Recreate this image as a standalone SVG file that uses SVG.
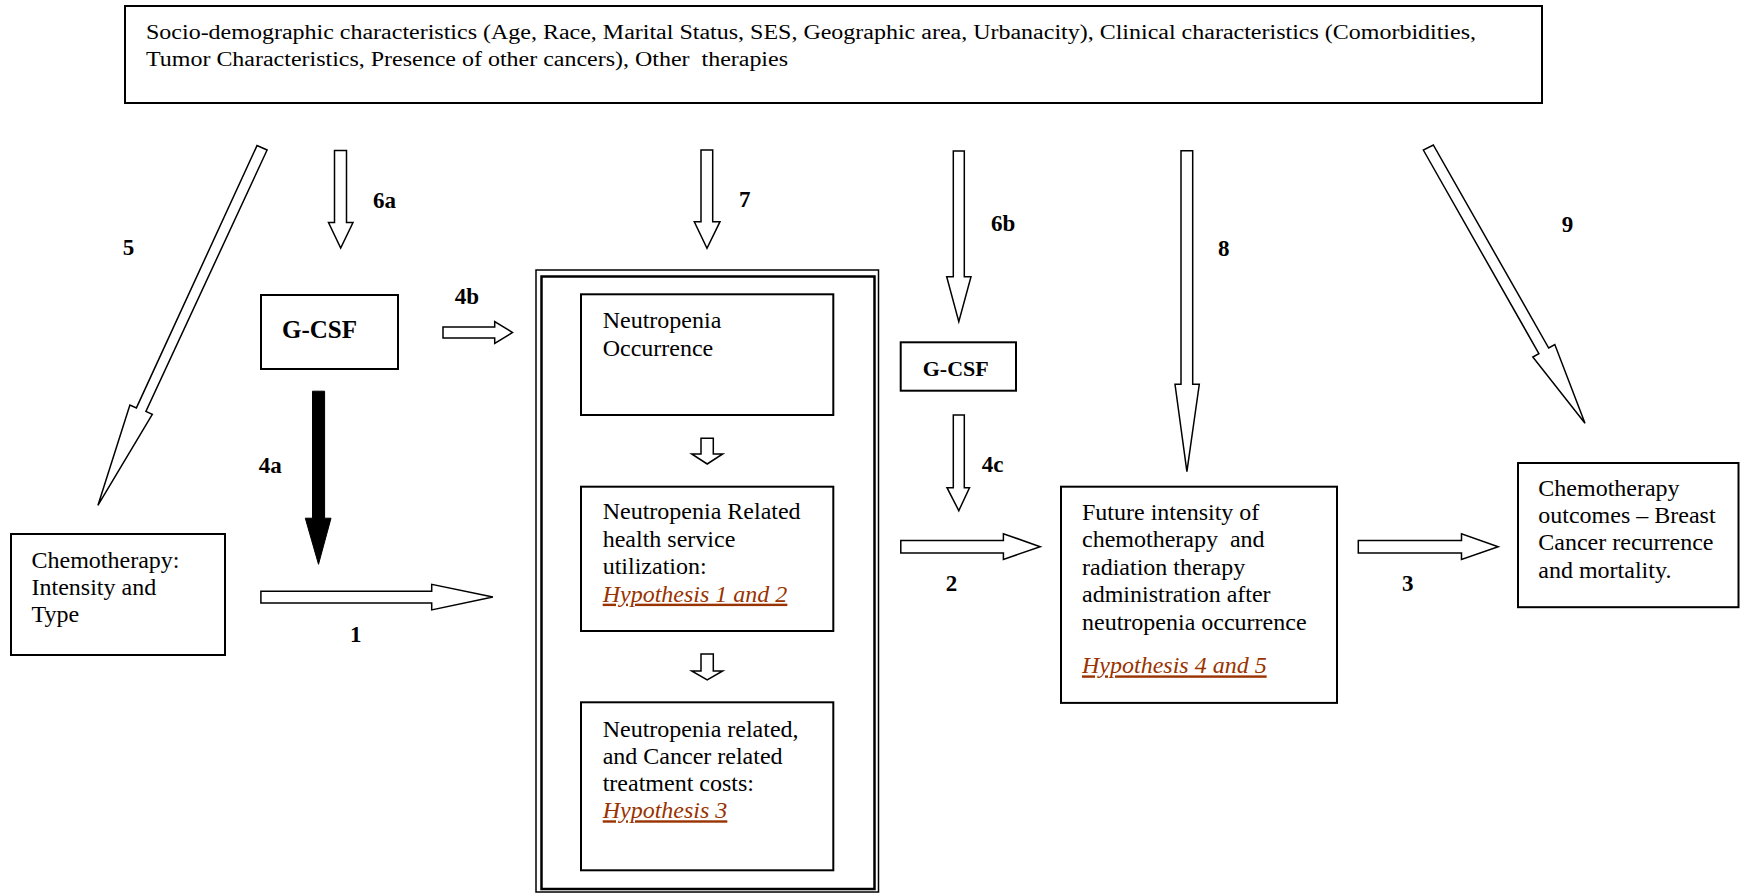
<svg xmlns="http://www.w3.org/2000/svg" width="1741" height="896" viewBox="0 0 1741 896">
<style>
text{font-family:"Liberation Serif","Times New Roman",serif;fill:#000}
.t{font-size:24px}
.top{font-size:20px;white-space:pre}
.lbl{font-size:23px;font-weight:bold}
.hyp{font-size:24px;font-style:italic;fill:#993300;text-decoration:underline}
.box{fill:#fff;stroke:#000;stroke-width:2}
.arr{fill:#fff;stroke:#000;stroke-width:1.5;stroke-linejoin:miter}
.blk{fill:#000;stroke:#000;stroke-width:1}
</style>
<rect width="1741" height="896" fill="#fff"/>

<g id="confounders">
<rect class="box" x="125" y="6" width="1417" height="97"/>
<text class="top" x="146" y="39" textLength="1330" lengthAdjust="spacingAndGlyphs">Socio-demographic characteristics (Age, Race, Marital Status, SES, Geographic area, Urbanacity), Clinical characteristics (Comorbidities,</text>
<text class="top" x="146" y="66" textLength="642" lengthAdjust="spacingAndGlyphs">Tumor Characteristics, Presence of other cancers), Other  therapies</text>
</g>

<g id="chemo">
<rect class="box" x="11" y="534" width="214" height="121"/>
<text class="t" x="31.5" y="567.6">Chemotherapy:</text>
<text class="t" x="31.5" y="595">Intensity and</text>
<text class="t" x="31.5" y="622.4">Type</text>
</g>

<g id="gcsf1">
<rect class="box" x="261" y="295" width="137" height="74"/>
<text x="282" y="337.6" style="font-size:25px;font-weight:bold">G-CSF</text>
</g>

<g id="neutropenia-group">
<rect fill="none" stroke="#000" stroke-width="1.5" x="536" y="270" width="342.5" height="622"/>
<rect fill="none" stroke="#000" stroke-width="2.5" x="541.5" y="276.5" width="333" height="612.5"/>
</g>

<g id="occurrence">
<rect class="box" x="581" y="294.3" width="252.3" height="120.7"/>
<text class="t" x="602.7" y="328.3">Neutropenia</text>
<text class="t" x="602.7" y="355.7">Occurrence</text>
</g>

<g id="utilization">
<rect class="box" x="581" y="486.7" width="252.3" height="144.3"/>
<text class="t" x="602.7" y="519.3">Neutropenia Related</text>
<text class="t" x="602.7" y="546.7">health service</text>
<text class="t" x="602.7" y="574">utilization:</text>
<text class="hyp" x="602.7" y="601.7">Hypothesis 1 and 2</text>
</g>

<g id="costs">
<rect class="box" x="581" y="702.3" width="252.3" height="168"/>
<text class="t" x="602.7" y="736.7">Neutropenia related,</text>
<text class="t" x="602.7" y="763.5">and Cancer related</text>
<text class="t" x="602.7" y="790.7">treatment costs:</text>
<text class="hyp" x="602.7" y="818.3">Hypothesis 3</text>
</g>

<g id="gcsf2">
<rect class="box" x="900.7" y="342.3" width="115.3" height="48.4"/>
<text x="922.7" y="375.7" style="font-size:22px;font-weight:bold">G-CSF</text>
</g>

<g id="future">
<rect class="box" x="1061" y="486.7" width="276" height="216.2"/>
<text class="t" x="1082" y="519.6">Future intensity of</text>
<text class="t" x="1082" y="547" style="white-space:pre">chemotherapy  and</text>
<text class="t" x="1082" y="574.5">radiation therapy</text>
<text class="t" x="1082" y="602">administration after</text>
<text class="t" x="1082" y="629.5">neutropenia occurrence</text>
<text class="hyp" x="1082" y="673.4">Hypothesis 4 and 5</text>
</g>

<g id="outcomes">
<rect class="box" x="1518" y="463" width="220.5" height="144.2"/>
<text class="t" x="1538.3" y="495.5">Chemotherapy</text>
<text class="t" x="1538.3" y="522.9">outcomes – Breast</text>
<text class="t" x="1538.3" y="550.3">Cancer recurrence</text>
<text class="t" x="1538.3" y="577.7">and mortality.</text>
</g>

<g id="connectors">
<polygon id="a5" class="arr" points="257,145.6 136.4,407.9 129.9,405.1 97.9,505.4 152.3,414.4 145.9,411.5 267.1,150"/>
<polygon id="a6a" class="arr" points="334.5,150.5 346.5,150.5 346.5,222.5 353,222.5 340.7,248 328.5,222.5 334.5,222.5"/>
<polygon id="a7" class="arr" points="701,150 712.7,150 712.7,221.7 720,221.7 707,248.3 694.3,221.7 701,221.7"/>
<polygon id="a6b" class="arr" points="953.3,151 964.3,151 964.3,276.7 971,276.7 958.8,321.7 946.7,276.7 953.3,276.7"/>
<polygon id="a4c" class="arr" points="953.3,415 964.3,415 964.3,487.7 969.5,487.7 958.8,510.7 947,487.7 953.3,487.7"/>
<polygon id="a8" class="arr" points="1181,150.7 1192.7,150.7 1192.7,384.3 1199.3,384.3 1186.9,471.7 1175,384.3 1181,384.3"/>
<polygon id="a9" class="arr" points="1423.3,150 1538.9,353.6 1532.8,357 1585,423.3 1554.8,344.6 1548.7,348 1433.3,145"/>
<polygon id="a4a" class="blk" points="312.5,391.2 324.6,391.2 324.6,518.2 331,518.2 318.5,564.3 305.3,518.2 312.5,518.2"/>
<polygon id="a4b" class="arr" points="443,327 494.7,327 494.7,321.5 512.5,332.5 494.7,343.5 494.7,338 443,338"/>
<polygon id="a1" class="arr" points="260.9,591.2 431.7,591.2 431.7,584.3 492.9,597.1 431.7,609.9 431.7,603 260.9,603"/>
<polygon id="a2" class="arr" points="900.8,540.6 1003.4,540.6 1003.4,533.7 1040.2,546.7 1003.4,559.4 1003.4,552.9 900.8,552.9"/>
<polygon id="a3" class="arr" points="1358.3,540.6 1461.5,540.6 1461.5,533.7 1498.2,546.7 1461.5,559.4 1461.5,552.9 1358.3,552.9"/>
<polygon id="in1" class="arr" points="701,438.3 713.3,438.3 713.3,454 722.7,454 707.2,464 691.7,454 701,454"/>
<polygon id="in2" class="arr" points="701,654 713.3,654 713.3,671 722.7,671 707.2,680 691.7,671 701,671"/>
<text class="lbl" x="122.8" y="255">5</text>
<text class="lbl" x="373" y="208">6a</text>
<text class="lbl" x="739" y="206.7">7</text>
<text class="lbl" x="991" y="230.7">6b</text>
<text class="lbl" x="1218" y="256">8</text>
<text class="lbl" x="1561.7" y="231.7">9</text>
<text class="lbl" x="454.8" y="304">4b</text>
<text class="lbl" x="258.7" y="473.3">4a</text>
<text class="lbl" x="350" y="642">1</text>
<text class="lbl" x="981.7" y="471.7">4c</text>
<text class="lbl" x="945.8" y="591">2</text>
<text class="lbl" x="1402" y="591">3</text>
</g>
</svg>
